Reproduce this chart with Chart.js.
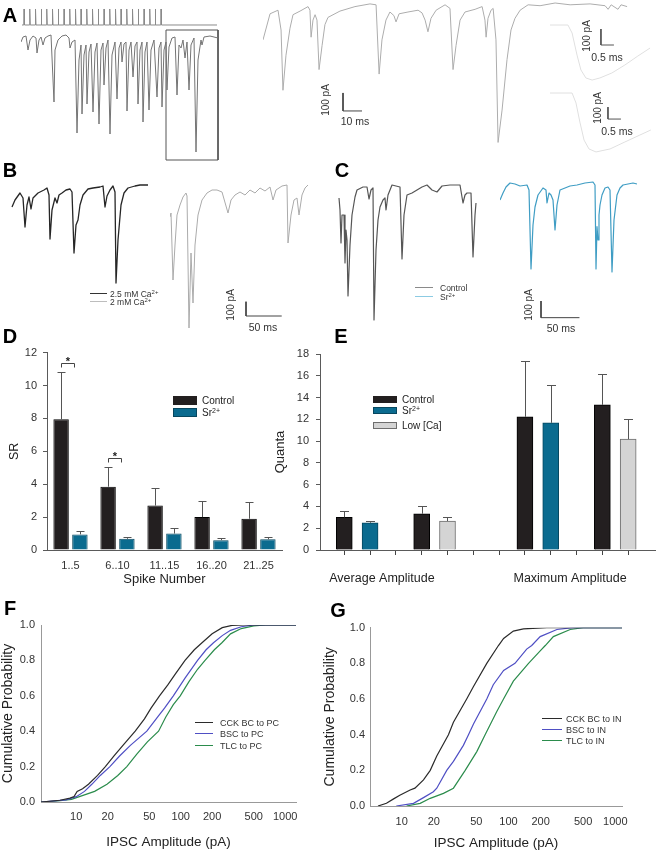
<!DOCTYPE html>
<html><head><meta charset="utf-8">
<script src="https://cdn.jsdelivr.net/npm/chart.js@4.4.1/dist/chart.umd.min.js"></script>
<style>
html,body{margin:0;padding:0;background:#fff}
body{position:relative;width:656px;height:852px;overflow:hidden;font-family:"Liberation Sans",Arial,Helvetica,sans-serif;color:#222}
canvas{position:absolute}
.tx{position:absolute;white-space:nowrap;line-height:1}
.sw{position:absolute;box-sizing:border-box}
sup{font-size:70%;line-height:0;vertical-align:0.45em}
</style></head><body>
<script>
// ---------------- DATA ----------------
// Panel A: stimulus (presynaptic spikes), ms
const stimTimes = [12,35,58,81,103,126,149,172,195,218,240,263,286,309,332,355,378,400,423,446,469,492,515,537,560];
const stimRest = -70, stimPeak = 40;
// Panel A: full IPSC train (ms, pA)
const aFullT = [0,8,20,28,36,48,60,64,72,80,88,96,108,120,132,136,148,164,180,192,196,204,216,224,232,240,244,252,260,264,272,280,288,296,304,312,320,328,332,340,348,356,364,376,384,392,400,404,412,420,424,432,440,448,456,464,468,476,484,488,496,504,512,520,532,544,552,560,564,572,580,584,592,604,616,624,632,640,648,656,664,672,680,692,700,708,720,724,732,756,788];
const aFullI = [-28,7,14,-84,-14,14,0,-105,-14,7,-49,0,14,21,-448,-84,-14,14,21,0,-70,-28,-14,-665,-154,-49,-532,-119,-49,-462,-98,-42,-518,-98,-35,-602,-84,-35,-329,-70,-14,-672,-119,-28,-427,-70,-28,-168,-42,-28,-511,-84,-28,-273,-56,-28,-462,-84,-28,-588,-98,-28,-504,-84,-14,-413,-70,-28,-483,-84,-28,-364,-63,0,7,-399,-49,-70,-14,-140,-28,-364,-49,0,-798,-154,-14,-49,7,14,0];
const aBoxT = [580,788,788,580,580];
const aBoxI = [56,56,-854,-854,56];
// Panel A: expanded segment (ms, pA)
const aZoomT = [0,3.7,7.9,9.5,10.5,12.1,14.2,15.8,19.5,23.7,24.7,25.3,26.3,27.4,28.4,29.5,31.1,32.6,34.2,40.5,48.4,56.3,59.5,61.1,62.6,64.7,66.8,68.9,70,71.6,76.3,81.6,83.7,85.3,86.8,88.4,91.1,95.8,98.4,100,101.6,103.7,106.3,111.6,115.3,116.8,117.4,118.4,120,121.1,122.6,123.7,125.8,128.4,130.5,132.6,135.3,139.5,145.8,153.7,161.6,172.1,180,181.6,183.2,186.8,188.4,191.6];
const aZoomI = [-205,-60,-40,-150,-485,-290,-140,-65,-45,-20,-40,-190,-95,-65,-95,-370,-235,-120,-80,-45,-20,-5,-10,-395,-205,-95,-50,-70,-105,-60,-50,-40,-55,-95,-160,-85,-40,-10,-30,-370,-235,-95,-50,-35,-20,-95,-190,-85,-40,-30,-205,-775,-595,-315,-150,-85,-40,-10,-15,0,-10,-5,-15,-35,-10,-35,-10,-20];
const aBarT = [42.1,42.1,52.1], aBarI = [-500,-600,-600];
// Panel A: single-event insets (ms, pA)
const inUpT = [0,0.69,0.85,1.04,1.19,1.38,1.62,1.92,2.38,2.88,3.38,3.85];
const inUpI = [0,0,-50,-188,-281,-331,-344,-331,-300,-250,-194,-144];
const inUpBarT = [1.96,1.96,2.46], inUpBarI = [-25,-125,-125];
const inLoT = [0,0.85,1.0,1.15,1.31,1.5,1.77,2.31,2.88,3.46,3.88];
const inLoI = [0,0,-83,-242,-392,-466,-491,-466,-408,-350,-308];
const inLoBarT = [2.23,2.23,2.73], inLoBarI = [-117,-217,-217];
// Panel B (ms, pA)
const bHighT = [2.8,7,14,18.2,21,23.8,26.6,29.4,32.2,39.2,47.6,51.8,54.6,56,58.8,63,65.8,68.6,72.8,78.4,84,86.8,89.6,92.4,95.2,98,102.2,109.2,116.2,126,130.2,133,135.8,140,144.2,147,148.4,151.2,155.4,159.6,165.2,175,182,193.2];
const bHighI = [-119,-70,-21,-56,-259,-105,-49,-133,-56,-21,0,14,-35,-343,-140,-56,-91,-35,-21,0,7,-14,-441,-245,-210,-105,-35,7,14,21,28,-119,-42,0,28,-14,-651,-350,-105,-21,14,28,35,35];
const bLowT = [0,1.4,4.2,7,9.8,14,18.2,22.4,23.8,26.6,29.4,32.2,35,39.2,44.8,51.8,58.8,65.8,72.8,81.2,85.4,91,98,105,112,119,126,133,140,144.2,148.4,156.8,163.8,165.2,169.4,173.6,177.8,180.6,184.8,189,193.2];
const bLowI = [-189,-161,-630,-385,-175,-105,-49,-21,-42,-966,-441,-791,-385,-175,-70,-21,0,0,-14,-161,-70,-35,-14,-35,0,-21,14,-7,21,-70,0,28,35,-371,-175,-70,-56,-175,-35,14,35];
const bBarT = [106.4,106.4,156.4], bBarI = [-782,-882,-882];
// Panel C (ms, pA)
const cCtrlT = [1.3,2.6,3.9,5.2,7.8,9.1,10.4,11.7,13,15.6,18.2,22.1,24.7,32.5,37.7,40.3,42.9,45.5,46.8,49.4,52,54.6,58.5,61.1,62.4,65,70.2,75.4,80.6,83.2,85.8,89.7,96.2,102.7,109.2,115.7,122.2,128.7,135.2,145.6,158.6,162.5,165.1,167.7,172.9,175.5,178.1,179.4];
const cCtrlI = [-78,-150,-348,-180,-180,-468,-270,-330,-666,-360,-180,-72,-30,-12,-12,-84,-30,-18,-810,-390,-210,-132,-90,-78,-150,-60,0,-6,-12,-444,-180,-60,-48,-30,-12,0,-30,-42,-6,0,0,-108,-60,-48,-48,-432,-180,-108];
const cSrT = [0,3.9,7.8,13,19.5,26,35.1,37.7,40.3,42.9,45.5,49.4,55.9,59.8,61.1,63.7,66.3,68.9,71.5,74.1,78,84.5,91,100.1,110.5,120.9,123.5,124.8,126.1,127.4,128.7,130,132.6,136.5,140.4,143,145.6,148.2,152.1,156,159.9,166.4,172.9,178.1];
const cSrI = [-90,-48,-12,12,6,-6,0,-30,-504,-240,-132,-60,-18,-30,-108,-48,-60,-90,-270,-120,-30,-18,-6,0,12,18,0,-504,-250,-330,-180,-120,-60,-18,-12,-30,-522,-210,-60,-18,0,6,12,6];
const cBarT = [53.3,53.3,103.3], cBarI = [-696,-796,-796];
// Panel D: synchronous ratio
const spikeGroups = ['1..5','6..10','11..15','16..20','21..25'];
const srControl = [7.95,3.85,2.7,2.0,1.9];
const srControlErr = [2.9,1.2,1.1,0.95,1.0];
const srStrontium = [0.95,0.68,1.0,0.6,0.65];
const srStrontiumErr = [0.2,0.12,0.35,0.12,0.15];
const sigGroupIndex = [0,1];
const sigLevel = [11.4,5.6];
// Panel E: quanta
const quantaTickSlots = [1,2,3,4,5,6,7,8,9,10,11,12];
const ampGroups = ['Average Amplitude','Maximum Amplitude'];
const ampGroupPos = [2.46,9.75];
const qControlSlot = [1,4,8,11];
const qControl = [3.0,3.33,12.23,13.33];
const qControlErr = [0.6,0.73,5.1,2.84];
const qSrSlot = [2,9];
const qSr = [2.5,11.68];
const qSrErr = [0.2,3.46];
const qLowSlot = [5,12];
const qLow = [2.66,10.18];
const qLowErr = [0.4,1.82];
// Panels F, G: cumulative amplitude distributions
const ampTicks = [10,20,50,100,200,500,1000];
const fCckAmp = [4.6,7,8.5,9.5,10.2,11.5,13.1,16,19,23,28,36.7,45,52,62.7,75,88,110,135,160,200,250,310,400,1270];
const fCckProb = [0,0.01,0.02,0.03,0.06,0.075,0.1,0.15,0.2,0.26,0.32,0.4,0.47,0.53,0.6,0.66,0.72,0.8,0.86,0.9,0.95,0.985,0.998,1,1];
const fBscAmp = [4.6,8,10,12,14.1,17,21,26,33,47.4,60,70,85,110,145,175,206,250,300,380,500,1270];
const fBscProb = [0,0.012,0.03,0.06,0.1,0.15,0.2,0.26,0.32,0.4,0.48,0.53,0.6,0.7,0.8,0.86,0.9,0.94,0.97,0.99,1,1];
const fTlcAmp = [4.6,7,9,12,15,19.7,25,30.5,38,48,61.4,72,85,99,120,145,171,210,248,300,380,500,650,1270];
const fTlcProb = [0,0.007,0.015,0.04,0.06,0.1,0.15,0.2,0.27,0.34,0.4,0.48,0.55,0.6,0.68,0.75,0.8,0.86,0.9,0.95,0.98,0.995,1,1];
const gCckAmp = [6.0,7.2,8.4,9.6,12,13.3,16,18.5,21.3,27.4,30.5,40.6,47,62.6,80.5,90,111,138,229,1155];
const gCckProb = [0,0.015,0.04,0.06,0.09,0.1,0.146,0.2,0.28,0.4,0.47,0.6,0.67,0.8,0.9,0.94,0.981,0.993,1,1];
const gBscAmp = [8.9,12.9,16,19.8,21.3,26.4,30.5,37.8,42.2,47,62.6,72,90,115,148,165,198,284,400,1155];
const gBscProb = [0,0.015,0.047,0.08,0.1,0.2,0.25,0.34,0.4,0.46,0.6,0.68,0.76,0.8,0.88,0.9,0.95,0.99,1,1];
const gTlcAmp = [11.1,14.9,18.5,24.6,30.5,39.3,50.5,60.4,77.7,89.8,111,154,198,221,263,378,500,1155];
const gTlcProb = [0,0.015,0.043,0.071,0.1,0.2,0.305,0.4,0.53,0.6,0.7,0.8,0.87,0.9,0.95,0.99,1,1];

// ---------------- HELPERS ----------------
Chart.defaults.font.family = '"Liberation Sans", Arial, sans-serif';
Chart.defaults.color = '#333';
const FONT = '"Liberation Sans", Arial, sans-serif';
const COL = {ctrl:'#231f20', ctrlB:'#000', sr:'#0b6b8f', srB:'#07475f', low:'#d4d4d4', lowB:'#6d6d6d',
  cck:'#2b2b2b', bsc:'#4f4fc4', tlc:'#2b8c4c', axis:'#5a5a5a', axisL:'#999'};

function place(w,h,left,top){
  const c=document.createElement('canvas'); c.width=w; c.height=h;
  c.style.left=left+'px'; c.style.top=top+'px'; c.style.width=w+'px'; c.style.height=h+'px';
  document.body.appendChild(c); return c;
}
function pts(xs,ys){ return xs.map((x,i)=>({x:x,y:ys[i]})); }
function text(html,x,y,size,o){
  o=o||{};
  const d=document.createElement('div'); d.className='tx'; d.innerHTML=html;
  d.style.fontSize=size+'px'; d.style.left=x+'px'; d.style.top=y+'px';
  if(o.bold) d.style.fontWeight='bold';
  d.style.color=o.color||'#222';
  let tf=o.anchor==='left'?'translate(0,-50%)':'translate(-50%,-50%)';
  if(o.rot) tf+=' rotate(-90deg)';
  d.style.transform=tf;
  document.body.appendChild(d);
}
function swatch(x,y,w,h,style){
  const d=document.createElement('div'); d.className='sw';
  Object.assign(d.style,{left:x+'px',top:y+'px',width:w+'px',height:h+'px'},style);
  document.body.appendChild(d);
}
const base = {responsive:false, animation:false, devicePixelRatio:1, events:[]};
function traceChart(left,top,w,h,xMax,yMin,yMax,sets){
  return new Chart(place(w,h,left,top),{
    type:'line',
    data:{datasets:sets.map(s=>({data:pts(s.t,s.v),borderColor:s.color,borderWidth:s.width||1,
      pointRadius:0,tension:0,fill:false,clip:false,borderJoinStyle:'round'}))},
    options:Object.assign({},base,{layout:{padding:0},
      plugins:{legend:{display:false},tooltip:{enabled:false}},
      scales:{x:{type:'linear',display:false,min:0,max:xMax},y:{type:'linear',display:false,min:yMin,max:yMax}}})
  });
}
const errorBars = {
  id:'errorBars',
  afterDatasetsDraw(chart,args,opts){
    const ctx=chart.ctx, ys=chart.scales.y;
    chart.data.datasets.forEach((ds,di)=>{
      if(!ds.errors) return;
      chart.getDatasetMeta(di).data.forEach((bar,i)=>{
        const raw=ds.data[i]; const v=(typeof raw==='object')?raw.y:raw;
        const x=Math.round(bar.x)+0.5;
        const yTop=Math.round(ys.getPixelForValue(v+ds.errors[i]))+0.5;
        ctx.save(); ctx.strokeStyle='#555'; ctx.lineWidth=1; ctx.beginPath();
        ctx.moveTo(x,bar.y); ctx.lineTo(x,yTop);
        ctx.moveTo(x-opts.cap,yTop); ctx.lineTo(x+opts.cap,yTop); ctx.stroke(); ctx.restore();
      });
    });
  }
};
const sigBrackets = {
  id:'sigBrackets',
  afterDatasetsDraw(chart){
    const ctx=chart.ctx, ys=chart.scales.y;
    const m0=chart.getDatasetMeta(0), m1=chart.getDatasetMeta(1);
    sigGroupIndex.forEach((gi,k)=>{
      const x1=Math.round(m0.data[gi].x)+0.5;
      const x2=Math.round(m1.data[gi].x-m1.data[gi].width/2+2)+0.5;
      const yy=Math.round(ys.getPixelForValue(sigLevel[k]))+0.5;
      ctx.save(); ctx.strokeStyle='#444'; ctx.lineWidth=1; ctx.beginPath();
      ctx.moveTo(x1,yy+4); ctx.lineTo(x1,yy); ctx.lineTo(x2,yy); ctx.lineTo(x2,yy+4); ctx.stroke();
      ctx.fillStyle='#222'; ctx.font='bold 11px '+FONT; ctx.textAlign='center'; ctx.textBaseline='alphabetic';
      ctx.fillText('*',(x1+x2)/2,yy+1); ctx.restore();
    });
  }
};

// ---------------- PANEL A ----------------
const stimT=[4], stimV=[stimRest];
stimTimes.forEach(t=>{ stimT.push(t-1,t,t+2); stimV.push(stimRest,stimPeak,stimRest); });
stimT.push(784); stimV.push(stimRest);
traceChart(21,5,200,25,800,-104.4,67.5,[{t:stimT,v:stimV,color:'#8a8a8a',width:1}]);
traceChart(21,28,200,137,800,-889,70,[
  {t:aFullT,v:aFullI,color:'#747474',width:1},
  {t:aBoxT,v:aBoxI,color:'#555',width:1}
]);
traceChart(263,0,370,150,194.7,-817,16.7,[
  {t:aZoomT,v:aZoomI,color:'#adadad',width:1},
  {t:aBarT,v:aBarI,color:'#444',width:1}
]);
traceChart(550,15,105,70,4.04,-375,62.5,[
  {t:inUpT,v:inUpI,color:'#e0e0e0',width:1},
  {t:inUpBarT,v:inUpBarI,color:'#555',width:1}
]);
traceChart(550,88,105,72,4.04,-558,41.7,[
  {t:inLoT,v:inLoI,color:'#e0e0e0',width:1},
  {t:inLoBarT,v:inLoBarI,color:'#555',width:1}
]);
text('100 pA',326,100,10,{rot:true,color:'#333'});
text('10 ms',355,121,10.5,{color:'#333'});
text('100 pA',587,36,10,{rot:true,color:'#333'});
text('0.5 ms',607,57,10.5,{color:'#333'});
text('100 pA',598,108,10,{rot:true,color:'#333'});
text('0.5 ms',617,131,10.5,{color:'#333'});

// ---------------- PANEL B ----------------
traceChart(10,175,145,115,203,-700,105,[{t:bHighT,v:bHighI,color:'#262626',width:1.3}]);
traceChart(170,175,145,160,203,-1015,105,[
  {t:bLowT,v:bLowI,color:'#ababab',width:1},
  {t:bBarT,v:bBarI,color:'#444',width:1}
]);
swatch(90,293,17,1,{background:'#333'});
swatch(90,301,17,1,{background:'#bdbdbd'});
text('2.5 mM Ca<sup>2+</sup>',110,293.5,8.5,{anchor:'left',color:'#333'});
text('2 mM Ca<sup>2+</sup>',110,301.5,8.5,{anchor:'left',color:'#333'});
text('100 pA',231,305,10,{rot:true,color:'#333'});
text('50 ms',263,327,10.5,{color:'#333'});

// ---------------- PANEL C ----------------
traceChart(338,178,142,150,184.6,-858,42,[{t:cCtrlT,v:cCtrlI,color:'#565656',width:1.2}]);
traceChart(500,178,145,150,188.5,-858,42,[
  {t:cSrT,v:cSrI,color:'#3f9dc4',width:1.2},
  {t:cBarT,v:cBarI,color:'#444',width:1}
]);
swatch(415,287,18,1,{background:'#8a8a8a'});
swatch(415,296,18,1,{background:'#8ccbe3'});
text('Control',440,287.5,8.5,{anchor:'left',color:'#333'});
text('Sr<sup>2+</sup>',440,296.5,8.5,{anchor:'left',color:'#333'});
text('100 pA',529,305,10,{rot:true,color:'#333'});
text('50 ms',561,328,10.5,{color:'#333'});

// ---------------- PANEL D ----------------
new Chart(place(290,250,0,340),{
  type:'bar',
  data:{labels:spikeGroups,datasets:[
    {label:'Control',data:srControl,errors:srControlErr,backgroundColor:COL.ctrl,borderColor:COL.ctrlB,borderWidth:1,categoryPercentage:0.8,barPercentage:0.82},
    {label:'Sr2+',data:srStrontium,errors:srStrontiumErr,backgroundColor:COL.sr,borderColor:COL.srB,borderWidth:1,categoryPercentage:0.8,barPercentage:0.82}
  ]},
  options:Object.assign({},base,{
    layout:{padding:{top:12.7,right:8,left:0,bottom:0}},
    plugins:{legend:{display:false},tooltip:{enabled:false},errorBars:{cap:4}},
    scales:{
      x:{grid:{display:false,drawTicks:false},border:{display:true,color:COL.axis},
        ticks:{padding:9,color:'#333',font:{size:11}},
        title:{display:true,text:'Spike Number',color:'#222',font:{size:13},padding:{top:0,bottom:2.5}},
        afterFit(s){s.height=40;}},
      y:{min:0,max:12,ticks:{stepSize:2,padding:6,color:'#333',font:{size:11}},
        grid:{drawOnChartArea:false,drawTicks:true,tickLength:4,color:COL.axis},border:{color:COL.axis},
        title:{display:true,text:'SR',color:'#222',font:{size:12.5},padding:{top:7,bottom:0}},
        afterFit(s){s.width=47;}}
    }
  }),
  plugins:[errorBars,sigBrackets]
});
swatch(173,396,24,9,{background:COL.ctrl});
swatch(173,408,24,9,{background:COL.sr,border:'1px solid '+COL.srB});
text('Control',202,400.5,10,{anchor:'left',color:'#222'});
text('Sr<sup>2+</sup>',202,412.5,10,{anchor:'left',color:'#222'});

// ---------------- PANEL E ----------------
new Chart(place(386,250,270,340),{
  type:'bar',
  data:{datasets:[
    {label:'Control',data:pts(qControlSlot,qControl),errors:qControlErr,backgroundColor:COL.ctrl,borderColor:COL.ctrlB,borderWidth:1,grouped:false,barThickness:16},
    {label:'Sr2+',data:pts(qSrSlot,qSr),errors:qSrErr,backgroundColor:COL.sr,borderColor:COL.srB,borderWidth:1,grouped:false,barThickness:16},
    {label:'Low [Ca]',data:pts(qLowSlot,qLow),errors:qLowErr,backgroundColor:COL.low,borderColor:COL.lowB,borderWidth:1,grouped:false,barThickness:16}
  ]},
  options:Object.assign({},base,{
    layout:{padding:{top:14,right:1,left:0,bottom:0}},
    plugins:{legend:{display:false},tooltip:{enabled:false},errorBars:{cap:4.5}},
    scales:{
      x:{type:'linear',position:'bottom',weight:0,min:0.06,max:13.04,offset:false,
        afterBuildTicks(s){s.ticks=quantaTickSlots.map(v=>({value:v}));},
        ticks:{display:true,callback:()=>'',padding:0,font:{size:1},autoSkip:false},
        grid:{display:true,offset:false,drawOnChartArea:false,drawTicks:true,tickLength:5,color:'#444',lineWidth:1},
        border:{color:COL.axis},afterFit(s){s.height=8;}},
      xg:{type:'linear',position:'bottom',weight:1,min:0.06,max:13.04,offset:false,
        afterBuildTicks(s){s.ticks=ampGroupPos.map(v=>({value:v}));},
        ticks:{callback:(v,i)=>ampGroups[i],padding:12.8,color:'#222',font:{size:12.5},maxRotation:0,autoSkip:false},
        grid:{display:false,offset:false,drawTicks:false},border:{display:false},afterFit(s){s.height=32;}},
      y:{min:0,max:18,ticks:{stepSize:2,padding:7,color:'#333',font:{size:11}},
        grid:{drawOnChartArea:false,drawTicks:true,tickLength:4,color:COL.axis},border:{color:COL.axis},
        title:{display:true,text:'Quanta',color:'#222',font:{size:13},padding:{top:2.2,bottom:0}},
        afterFit(s){s.width=50;}}
    }
  }),
  plugins:[errorBars]
});
swatch(373,396,24,7,{background:COL.ctrl});
swatch(373,407,24,7,{background:COL.sr,border:'1px solid '+COL.srB});
swatch(373,422,24,7,{background:COL.low,border:'1px solid '+COL.lowB});
text('Control',402,399.5,10,{anchor:'left'});
text('Sr<sup>2+</sup>',402,411,10,{anchor:'left'});
text('Low [Ca]',402,425.5,10,{anchor:'left'});

// ---------------- PANELS F, G ----------------
function cdfChart(left,top,w,h,pad,yW,xH,xMin,xMax,ytPad,xtPad,yTitlePad,xTitlePad,sets){
  return new Chart(place(w,h,left,top),{
    type:'line',
    data:{datasets:sets.map(s=>({label:s.label,data:pts(s.x,s.y),borderColor:s.color,borderWidth:1.2,pointRadius:0,tension:0,fill:false}))},
    options:Object.assign({},base,{
      layout:{padding:pad},
      plugins:{legend:{display:false},tooltip:{enabled:false}},
      scales:{
        x:{type:'logarithmic',min:xMin,max:xMax,
          afterBuildTicks(s){s.ticks=ampTicks.map(v=>({value:v}));},
          ticks:{callback:v=>String(v),padding:xtPad,color:'#333',font:{size:11},maxRotation:0,autoSkip:false},
          grid:{display:false,drawTicks:false},border:{color:COL.axisL},
          title:{display:true,text:'IPSC Amplitude (pA)',color:'#222',font:{size:13.5},padding:{top:0,bottom:xTitlePad}},
          afterFit(s){s.height=xH;}},
        y:{min:0,max:1,ticks:{stepSize:0.2,callback:v=>Number(v).toFixed(1),padding:ytPad,color:'#333',font:{size:11}},
          grid:{display:false,drawTicks:false},border:{color:COL.axisL},
          title:{display:true,text:'Cumulative Probability',color:'#222',font:{size:14},padding:{top:yTitlePad,bottom:0}},
          afterFit(s){s.width=yW;}}
      }
    })
  });
}
cdfChart(0,612,310,240,{top:13,right:14,left:0,bottom:0},41,50,4.6,1270,6,8.4,0,1.9,[
  {label:'CCK BC to PC',x:fCckAmp,y:fCckProb,color:COL.cck},
  {label:'BSC to PC',x:fBscAmp,y:fBscProb,color:COL.bsc},
  {label:'TLC to PC',x:fTlcAmp,y:fTlcProb,color:COL.tlc}
]);
cdfChart(318,612,338,240,{top:15.7,right:34,left:0,bottom:0},52,46,5.05,1155,5,9,3.6,0.9,[
  {label:'CCK BC to IN',x:gCckAmp,y:gCckProb,color:COL.cck},
  {label:'BSC to IN',x:gBscAmp,y:gBscProb,color:COL.bsc},
  {label:'TLC to IN',x:gTlcAmp,y:gTlcProb,color:COL.tlc}
]);
[['CCK BC to PC',COL.cck,722],['BSC to PC',COL.bsc,733],['TLC to PC',COL.tlc,745]].forEach(r=>{
  swatch(195,r[2]-0.5,18,1.2,{background:r[1]}); text(r[0],220,r[2]+0.5,9,{anchor:'left',color:'#333'});
});
[['CCK BC to IN',COL.cck,718.3],['BSC to IN',COL.bsc,729.7],['TLC to IN',COL.tlc,740.7]].forEach(r=>{
  swatch(542,r[2]-0.5,20,1.2,{background:r[1]}); text(r[0],566,r[2]+0.5,9,{anchor:'left',color:'#333'});
});

// ---------------- PANEL LETTERS ----------------
[['A',10,15],['B',10,170],['C',342,170],['D',10,336],['E',341,336],['F',10,608],['G',338,610]].forEach(l=>{
  text(l[0],l[1],l[2],20,{bold:true,color:'#000'});
});
</script>
</body></html>
